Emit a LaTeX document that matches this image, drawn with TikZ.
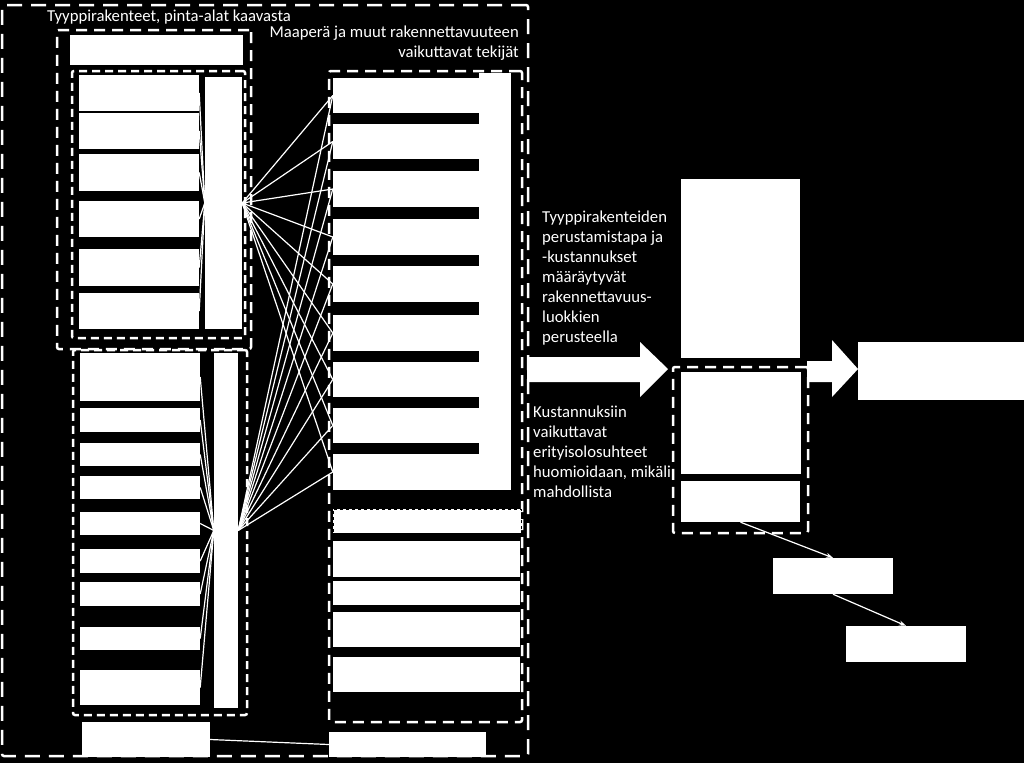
\documentclass[tikz,border=0pt]{standalone}
\usepackage{fontspec}
\setmainfont{Carlito}
\usetikzlibrary{fit,arrows.meta}
\begin{document}
\begin{tikzpicture}[
    x=1pt, y=-1pt,
    >={Stealth[length=7pt,width=5pt]},
    box/.style={fill=white, draw=none, inner sep=0pt},
    frame/.style={draw=white, line width=2.5pt, dash pattern=on 11pt off 7pt,
        rounded corners=2pt, inner sep=0pt},
    subframe/.style={frame, dash pattern=on 8pt off 5pt},
    wire/.style={draw=white, line width=1.2pt},
    arr/.style={wire, ->},
    txt/.style={text=white, inner sep=0pt, font=\fontsize{16.7}{20}\selectfont}
]
    \fill[black] (0,0) rectangle (1024,763);
    \useasboundingbox (0,0) rectangle (1024,763);

    % dashed groups
    \node[frame, dash pattern=on 15pt off 9pt, fit={(2,5) (528,756)}] (outer) {};
    \node[frame, fit={(57,30) (251,349)}] (grpA) {};
    \node[subframe, fit={(72,71) (245,338)}] (grpAin) {};
    \node[subframe, fit={(73,350) (247,715)}] (grpB) {};
    \node[frame, fit={(329,71) (522,722)}] (grpC) {};
    \node[frame, fit={(673,367) (808,533)}] (grpE) {};

    % type structures
    \node[box, fit={(70,35) (243,65)}] (aHead) {};
    \foreach \t/\b [count=\i] in {75/111, 113/149, 154/191, 201/237, 249/286, 293/329}
        \node[box, fit={(79,\t) (199,\b)}] (a\i) {};
    \node[box, fit={(205,77) (242,329)}] (aT) {};
    \foreach \t/\b [count=\i] in {353/401, 408/432, 443/466, 476/499, 512/535,
        549/573, 582/606, 627/650, 670/705}
        \node[box, fit={(80,\t) (200,\b)}] (b\i) {};
    \node[box, fit={(214,353) (238,708)}] (bT) {};

    % soil factors
    \foreach \t/\b [count=\i] in {78/113, 124/159, 171/207, 219/255, 266/302,
        315/351, 362/397, 408/443, 454/490}
        \node[box, fit={(333,\t) (479,\b)}] (c\i) {};
    \node[box, fit={(479,73) (511,490)}] (cT) {};
    \node[box, draw=black, dashed, line width=1pt, fit={(333,509) (521,533)}] (d1) {};
    \foreach \t/\b [count=\i from 2] in {541/577, 581/605, 612/647, 657/692}
        \node[box, fit={(333,\t) (520,\b)}] (d\i) {};

    \node[box, fit={(82,722) (210,757)}] (foot1) {};
    \node[box, fit={(329,732) (486,757)}] (foot2) {};

    % right side
    \node[box, fit={(681,179) (800,358)}] (classes) {};
    \node[box, fit={(681,372) (801,474)}] (extra) {};
    \node[box, fit={(681,481) (800,522)}] (extra2) {};
    \node[box, fit={(858,342) (1030,400)}] (total) {};
    \node[box, fit={(773,558) (893,594)}] (step1) {};
    \node[box, fit={(846,626) (966,662)}] (step2) {};

    % connectors
    \foreach \i in {1,...,6} \draw[wire] (a\i.east) -- (aT.west);
    \foreach \i in {1,...,9} \draw[wire] (b\i.east) -- (bT.west);
    \foreach \i in {1,...,9} {
        \draw[wire] (aT.east) -- (c\i.west);
        \draw[wire] (bT.east) -- (c\i.west);
    }
    \draw[wire] (foot1.east) -- (foot2.west);
    \draw[arr] (extra2.south) -- (step1.north);
    \draw[arr] (step1.south) -- (step2.north);

    % block arrows
    \fill[white] (527,357) -- (640,357) -- (640,342) -- (668,369) -- (640,397)
        -- (640,382) -- (527,382) -- cycle;
    \fill[white] (807,361) -- (832,361) -- (832,340) -- (858,369) -- (832,397)
        -- (832,382) -- (807,382) -- cycle;

    % labels
    \node[txt, anchor=west] (title) at (47,17) {Tyyppirakenteet, pinta-alat kaavasta};
    \node[txt, align=right, anchor=north east] (soil) at (519,26)
        {Maaperä ja muut rakennettavuuteen\\vaikuttavat tekijät};
    \node[txt, align=left, anchor=north west] (basis) at (542,211)
        {Tyyppirakenteiden\\perustamistapa ja\\-kustannukset\\määräytyvät\\rakennettavuus-\\luokkien\\perusteella};
    \node[txt, align=left, anchor=north west] (special) at (533,406)
        {Kustannuksiin\\vaikuttavat\\erityisolosuhteet\\huomioidaan, mikäli\\mahdollista};
\end{tikzpicture}
\end{document}
